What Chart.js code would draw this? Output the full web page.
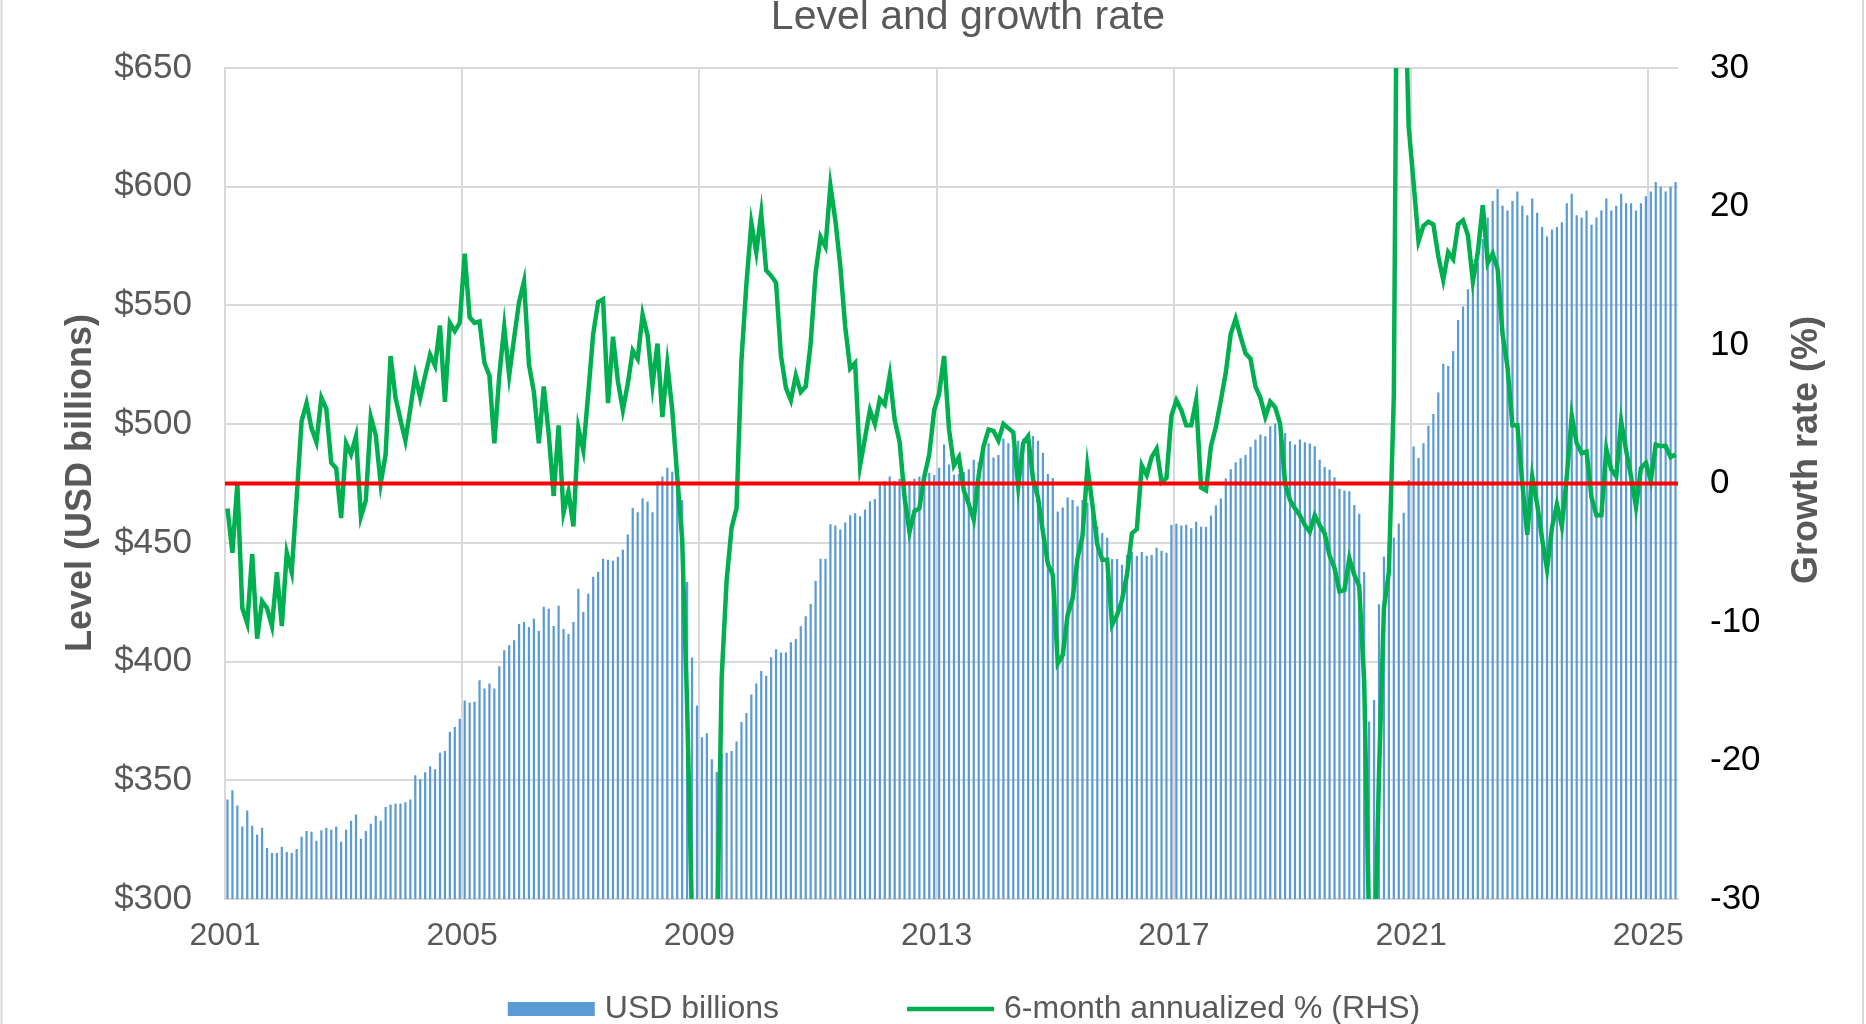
<!DOCTYPE html>
<html lang="en">
<head>
<meta charset="UTF-8">
<title>Level and growth rate</title>
<script src="https://cdn.jsdelivr.net/npm/chart.js"></script>
<style>
  html, body { margin: 0; padding: 0; background: #ffffff; }
  #chart { display: block; }
</style>
</head>
<body>
<canvas id="chart" width="1866" height="1024"></canvas>
<script>
// Monthly data, Jan 2001 .. Jun 2025
const startYear = 2001;
const tickYears = [2001, 2005, 2009, 2013, 2017, 2021, 2025];

// Level, USD billions (bars, left axis)
const levels = [
  341.9, 345.8, 339.4, 330.5, 337.3, 330.9, 327.1, 330.0, 321.5, 319.4, 319.4, 322.0, // 2001
  319.8, 319.4, 321.1, 326.2, 328.6, 328.3, 324.5, 329.0, 330.0, 329.2, 330.5, 324.1, // 2002
  329.2, 333.0, 335.6, 325.4, 328.6, 331.7, 335.1, 333.0, 338.7, 339.8, 340.2, 340.2, // 2003
  340.7, 341.9, 352.1, 350.4, 353.4, 355.9, 354.7, 361.6, 362.3, 370.4, 372.5, 375.9, // 2004
  383.6, 382.7, 383.1, 392.1, 388.7, 390.8, 388.7, 398.0, 404.8, 406.9, 409.0, 415.8, // 2005
  416.7, 414.6, 418.0, 412.9, 423.1, 422.2, 415.0, 423.5, 413.7, 411.6, 416.7, 430.7, // 2006
  420.9, 428.6, 435.7, 437.8, 443.3, 442.9, 442.5, 444.2, 447.1, 453.5, 464.7, 462.9, // 2007
  468.8, 467.4, 462.9, 476.0, 478.0, 481.6, 480.0, 478.0, 468.0, 433.5, 401.7, 381.4, // 2008
  368.1, 369.8, 358.9, 353.5, 361.0, 361.6, 362.3, 366.3, 374.5, 378.3, 386.1, 390.8, // 2009
  396.0, 394.0, 401.8, 405.2, 403.8, 403.8, 408.1, 409.5, 414.9, 419.1, 424.3, 434.0, // 2010
  443.3, 443.3, 457.8, 457.3, 455.6, 458.6, 461.6, 462.5, 461.2, 464.1, 467.5, 468.5, // 2011
  474.4, 476.0, 478.0, 476.0, 477.0, 477.0, 476.0, 477.0, 478.0, 477.0, 479.4, 478.6, // 2012
  481.6, 491.4, 483.0, 478.7, 479.0, 480.0, 481.0, 485.0, 484.0, 488.0, 492.0, 486.0, // 2013
  487.0, 494.0, 492.0, 489.0, 493.0, 494.0, 496.0, 495.0, 493.0, 488.0, 479.0, 477.3, // 2014
  463.2, 464.9, 469.1, 468.0, 465.4, 468.0, 467.0, 462.0, 457.0, 454.2, 452.1, 443.2, // 2015
  443.2, 440.8, 445.0, 446.2, 444.5, 446.2, 444.6, 444.9, 447.9, 446.7, 445.8, 457.6, // 2016
  458.1, 457.3, 457.6, 456.1, 458.9, 456.8, 456.8, 461.5, 465.7, 468.7, 477.2, 481.0, // 2017
  484.0, 485.6, 487.0, 490.5, 493.5, 495.6, 494.9, 499.1, 500.3, 498.0, 496.3, 492.8, // 2018
  491.4, 493.5, 492.4, 491.8, 490.7, 485.0, 481.9, 480.8, 477.6, 472.8, 472.0, 471.7, // 2019
  465.9, 462.3, 437.7, 374.8, 383.8, 424.1, 444.2, 448.0, 452.3, 458.2, 462.7, 476.5, // 2020
  490.6, 485.7, 492.0, 499.3, 504.3, 513.3, 525.4, 524.5, 530.8, 543.9, 549.5, 556.8, // 2021
  562.0, 568.0, 578.0, 587.0, 594.0, 599.0, 592.0, 590.0, 594.0, 598.0, 592.0, 588.0, // 2022
  595.0, 589.0, 583.0, 579.0, 582.0, 583.0, 585.0, 593.0, 597.0, 588.0, 587.0, 590.0, // 2023
  584.0, 587.0, 590.0, 595.0, 590.0, 592.0, 597.0, 593.0, 593.0, 590.0, 593.0, 596.0, // 2024
  598.0, 602.0, 600.0, 598.0, 600.0, 602.0                                            // 2025
];

// 6-month annualized growth, % (line, right axis)
const growth = [
  -1.8, -5.0, 0.0, -9.0, -10.1, -5.1, -11.2, -8.5, -9.0, -10.3, -6.4, -10.3, // 2001
  -5.0, -6.4, -1.0, 4.5, 5.8, 4.0, 3.0, 6.2, 5.4, 1.5, 1.1, -2.5,            // 2002
  2.9, 2.1, 3.4, -2.4, -1.2, 4.8, 3.5, 0.0, 2.1, 9.2, 6.2, 4.6,              // 2003
  3.1, 5.4, 7.8, 6.2, 7.8, 9.3, 8.5, 11.4, 5.9, 11.6, 11.0, 11.6,            // 2004
  16.6, 12.0, 11.6, 11.7, 8.7, 7.8, 2.9, 7.8, 11.3, 7.8, 10.5, 13.1,         // 2005
  14.6, 8.6, 6.6, 2.9, 7.0, 3.6, -0.9, 4.2, -2.1, -0.6, -3.1, 4.0,           // 2006
  2.4, 6.5, 10.8, 13.1, 13.3, 5.8, 10.6, 7.4, 5.3, 7.2, 9.6, 9.0,            // 2007
  12.2, 10.7, 7.1, 10.1, 4.8, 8.6, 5.3, 0.5, -4.0, -16.0, -31.6, -42.0,      // 2008
  -46.0, -44.0, -40.0, -34.0, -14.0, -7.0, -3.2, -1.8, 8.9, 14.4, 18.8, 16.7, // 2009
  19.5, 15.4, 15.0, 14.5, 9.2, 6.9, 6.0, 7.8, 6.6, 7.0, 10.1, 15.2,          // 2010
  17.8, 17.1, 21.5, 19.0, 15.7, 11.3, 8.3, 8.7, 1.3, 3.3, 5.3, 4.3,          // 2011
  6.1, 5.7, 7.8, 4.6, 3.0, -1.0, -3.5, -2.0, -1.8, 0.5, 2.1, 5.3,            // 2012
  6.5, 9.2, 3.9, 1.3, 1.9, -0.5, -1.5, -2.6, 0.6, 2.7, 3.9, 3.8,             // 2013
  3.1, 4.3, 4.0, 3.7, -0.2, 2.9, 3.4, 0.3, -1.0, -3.5, -5.8, -6.6,           // 2014
  -13.0, -12.4, -9.5, -8.3, -5.4, -3.8, 1.2, -1.5, -4.4, -5.5, -5.5, -10.2,  // 2015
  -9.5, -8.4, -6.6, -3.6, -3.3, 1.3, 0.6, 1.9, 2.5, 0.1, 0.4, 4.9,           // 2016
  6.0, 5.3, 4.2, 4.2, 6.0, -0.3, -0.5, 2.7, 4.1, 6.0, 8.0, 10.8,             // 2017
  11.9, 10.6, 9.4, 9.0, 7.0, 6.2, 4.8, 5.9, 5.5, 4.3, 0.0, -1.2,             // 2018
  -1.8, -2.3, -3.0, -3.5, -2.3, -3.0, -3.6, -5.2, -6.1, -7.8, -7.7, -5.4,    // 2019
  -6.6, -7.4, -14.3, -32.0, -36.0, -21.0, -9.0, -6.4, 6.3, 58.0, 40.0, 25.8, // 2020
  21.7, 17.5, 18.6, 18.9, 18.7, 16.4, 14.7, 16.7, 16.2, 18.7, 19.0, 17.9,    // 2021
  14.6, 16.7, 20.1, 15.9, 16.6, 15.5, 10.8, 8.4, 4.2, 4.2, 0.0, -3.7,        // 2022
  0.5, -1.5, -4.0, -6.2, -3.2, -1.5, -3.1, 0.5, 4.9, 2.9, 2.2, 2.3,          // 2023
  -1.0, -2.3, -2.3, 2.5, 1.0, 0.5, 4.5, 2.4, 0.5, -1.7, 1.1, 1.5,            // 2024
  0.2, 2.8, 2.7, 2.7, 1.9, 2.1                                               // 2025
];

const zeroLine = 0;

const months = levels.map((_, i) =>
  (startYear + Math.floor(i / 12)) + '-' + String(i % 12 + 1).padStart(2, '0'));

const FONT = '"Liberation Sans", Arial, Helvetica, sans-serif';
const GRID = '#D9D9D9';
const TEXT = '#595959';

// red zero line, titles, frame and legend
const decor = {
  id: 'decor',
  afterDatasetsDraw(chart) {
    const { ctx, chartArea, scales } = chart;
    const y0 = scales.y1.getPixelForValue(zeroLine);
    ctx.save();
    ctx.strokeStyle = '#FF0000';
    ctx.lineWidth = 4;
    ctx.beginPath();
    ctx.moveTo(chartArea.left, y0);
    ctx.lineTo(chartArea.right, y0);
    ctx.stroke();
    ctx.restore();
  },
  afterDraw(chart) {
    const ctx = chart.ctx;
    ctx.save();

    // outer frame edges
    ctx.strokeStyle = GRID;
    ctx.lineWidth = 2;
    ctx.beginPath();
    ctx.moveTo(1.5, 0); ctx.lineTo(1.5, 1024);
    ctx.moveTo(1863, 0); ctx.lineTo(1863, 1024);
    ctx.stroke();

    // title
    ctx.fillStyle = TEXT;
    ctx.textAlign = 'center';
    ctx.textBaseline = 'alphabetic';
    ctx.font = '41px ' + FONT;
    ctx.fillText('Level and growth rate', 968, 29);

    // axis titles
    ctx.font = 'bold 36px ' + FONT;
    ctx.save();
    ctx.translate(91, 483);
    ctx.rotate(-Math.PI / 2);
    ctx.fillText('Level (USD billions)', 0, 0);
    ctx.restore();
    ctx.save();
    ctx.translate(1817, 450);
    ctx.rotate(-Math.PI / 2);
    ctx.fillText('Growth rate (%)', 0, 0);
    ctx.restore();

    // legend: bars first, then the line
    const bars = chart.data.datasets.find(d => d.type === 'bar');
    const line = chart.data.datasets.find(d => d.type === 'line');
    ctx.font = '32px ' + FONT;
    ctx.textAlign = 'left';
    const w1 = ctx.measureText(bars.label).width;
    const w2 = ctx.measureText(line.label).width;
    const swatch = 87, gapText = 10, gapItem = 128;
    const total = swatch + gapText + w1 + gapItem + swatch + gapText + w2;
    let x = 964 - total / 2;
    const yMid = 1009, base = 1018;
    ctx.fillStyle = bars.backgroundColor;
    ctx.fillRect(x, yMid - 7, swatch, 14);
    ctx.fillStyle = TEXT;
    ctx.fillText(bars.label, x + swatch + gapText, base);
    x += swatch + gapText + w1 + gapItem;
    ctx.strokeStyle = line.borderColor;
    ctx.lineWidth = 4.5;
    ctx.beginPath();
    ctx.moveTo(x, yMid);
    ctx.lineTo(x + swatch, yMid);
    ctx.stroke();
    ctx.fillStyle = TEXT;
    ctx.fillText(line.label, x + swatch + gapText, base);

    ctx.restore();
  }
};

new Chart(document.getElementById('chart'), {
  data: {
    labels: months,
    datasets: [
      {
        type: 'line',
        label: '6-month annualized % (RHS)',
        data: growth,
        yAxisID: 'y1',
        borderColor: '#00B050',
        borderWidth: 4.5,
        pointRadius: 0,
        tension: 0,
        clip: 0,
        order: 0
      },
      {
        type: 'bar',
        label: 'USD billions',
        data: levels,
        yAxisID: 'y',
        backgroundColor: '#5B9BD5',
        barPercentage: 0.45,
        categoryPercentage: 1.0,
        order: 1
      }
    ]
  },
  options: {
    responsive: false,
    animation: false,
    layout: { padding: { top: 68, right: 0, bottom: 0, left: 0 } },
    plugins: {
      legend: { display: false },
      title: { display: false },
      tooltip: { enabled: false }
    },
    scales: {
      x: {
        type: 'category',
        offset: true,
        grid: {
          offset: true,
          drawTicks: false,
          lineWidth: 2,
          color: (c) => (c.index !== undefined && c.index % 48 === 0) ? GRID : 'rgba(0,0,0,0)'
        },
        border: { display: true, color: GRID, width: 2 },
        ticks: {
          autoSkip: false,
          maxRotation: 0,
          minRotation: 0,
          padding: 18,
          labelOffset: -2.5,
          color: TEXT,
          font: { family: FONT, size: 32 },
          callback: function (value, index) {
            const label = months[index];
            const year = Number(label.slice(0, 4));
            return (index % 12 === 0 && tickYears.includes(year)) ? String(year) : '';
          }
        },
        afterFit: (scale) => { scale.height = 125; }
      },
      y: {
        position: 'left',
        min: 300,
        max: 650,
        grid: { color: GRID, lineWidth: 2, drawTicks: false },
        border: { display: true, color: GRID, width: 2 },
        ticks: {
          stepSize: 50,
          padding: 33,
          color: TEXT,
          font: { family: FONT, size: 35 },
          callback: (v) => '$' + v
        },
        afterFit: (scale) => { scale.width = 225; }
      },
      y1: {
        position: 'right',
        min: -30,
        max: 30,
        grid: { display: false, drawTicks: false },
        border: { display: false },
        ticks: {
          stepSize: 10,
          padding: 32,
          color: '#000000',
          font: { family: FONT, size: 35 }
        },
        afterFit: (scale) => { scale.width = 188; }
      }
    }
  },
  plugins: [decor]
});
</script>
</body>
</html>
